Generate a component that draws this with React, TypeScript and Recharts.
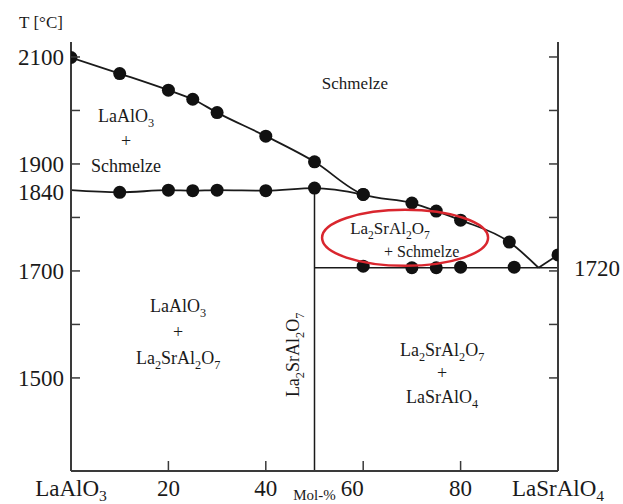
import React from 'react';
import { ComposedChart, Line, Scatter, XAxis, YAxis, ReferenceLine, ReferenceDot } from 'recharts';

// liquidus (upper curve)
const liqX = [0, 10, 20, 25, 30, 40, 50, 60, 70, 75, 80, 90, 96];
const liqT = [2099, 2069, 2038, 2021, 1996, 1952, 1904, 1843, 1827, 1812, 1795, 1754, 1706];
// short rising branch from the eutectic to pure LaSrAlO4
const riseX = [96, 100];
const riseT = [1706, 1730];
// the ~1840 line under LaAlO3 + Schmelze
const lowX = [0, 10, 20, 25, 30, 40, 50, 60];
const lowT = [1851, 1847, 1851, 1850, 1851, 1850, 1855, 1843];
// measured points on the eutectic line
const eutX = [60, 70, 75, 80, 91];
const eutT = [1709, 1706, 1706, 1707, 1707];
const eutLine = 1706;
const compound = 50;

const yTicks = [1500, 1600, 1700, 1800, 1840, 1900, 2000, 2100];
const yLabels: Record<number, string> = { 2100: '2100', 1900: '1900', 1840: '1840', 1700: '1700', 1500: '1500' };
const rightTicks = [1500, 1600, 1700, 1720, 1800, 1900, 2000, 2100];
const xTicks = [0, 20, 40, 50, 60, 80, 100];
const xLabels: Record<number, string> = { 0: 'LaAlO3', 20: '20', 40: '40', 50: 'Mol-%', 60: '60', 80: '80', 100: 'LaSrAlO4' };

const Y_MIN = 1326;
const Y_MAX = 2128;

const zip = (xs: number[], ts: number[]) => xs.map((x, i) => ({ x, T: ts[i] }));
const liquidus = zip(liqX, liqT);
const rise = zip(riseX, riseT);
const lower = zip(lowX, lowT);
const eutDots = zip(eutX, eutT);
const liqDots = liquidus.slice(0, -1);
const lowDots = lower.slice(1);
const endDot = rise.slice(1);

const FONT = '"Liberation Serif", "Times New Roman", serif';
const INK = '#1a1a1a';
const AXIS = '#3a3a3a';

// chemical formula: a digit that follows a letter becomes a subscript
// (dy only where the baseline moves, so the parent's y stays in charge)
function Formula({ s, fs, sub = 0.3 }: { s: string; fs: number; sub?: number }) {
  if (/^[\d\s]+$/.test(s)) return <>{s}</>;
  const parts = s.split(/(\d)/).filter(Boolean);
  const out: React.ReactNode[] = [];
  let low = false;
  const shift = fs * sub;
  parts.forEach((p, i) => {
    const isSub = /\d/.test(p);
    let dy: number | undefined;
    if (isSub && !low) { dy = shift; low = true; }
    else if (!isSub && low) { dy = -shift; low = false; }
    out.push(<tspan key={i} dy={dy} fontFamily={FONT} fontSize={isSub ? fs * 0.68 : fs}>{p}</tspan>);
  });
  return <>{out}</>;
}

const dot = (p: any) => <circle cx={p.cx} cy={p.cy} r={6.5} fill="#111" />;

const note = (lines: string[], fs: number, gap: number) => (p: any) => (
  <g>
    {lines.map((l, i) => (
      <text key={i} x={p.cx} y={p.cy + (i - (lines.length - 1) / 2) * gap + fs * 0.33}
        textAnchor="middle" fontFamily={FONT} fontSize={fs} fill={INK}>
        <Formula s={l} fs={fs} />
      </text>
    ))}
  </g>
);

const LeftTick = (p: any) => {
  const { x, y, payload } = p;
  const v = payload.value;
  return (
    <g>
      {v % 100 === 0 && <line x1={x} x2={x + 9} y1={y} y2={y} stroke={AXIS} strokeWidth={1.5} />}
      {yLabels[v] && (
        <text x={x - 7} y={y + (v === 1840 ? 4 : 8)} textAnchor="end" fontFamily={FONT} fontSize={23} fill={INK}>{yLabels[v]}</text>
      )}
    </g>
  );
};

const RightTick = (p: any) => {
  const { x, y, payload } = p;
  const v = payload.value;
  if (v === 1720) {
    return <text x={x + 16} y={y + 16} textAnchor="start" fontFamily={FONT} fontSize={23} fill={INK}>1720</text>;
  }
  return <line x1={x} x2={x - 9} y1={y} y2={y} stroke={AXIS} strokeWidth={1.5} />;
};

const BottomTick = (p: any) => {
  const { x, y, payload } = p;
  const v = payload.value;
  const label = xLabels[v];
  const inner = v > 0 && v < 100 && v !== 50;
  if (v === 50) {
    return <text x={x} y={y + 29} textAnchor="middle" fontFamily={FONT} fontSize={15} fill={INK}>{label}</text>;
  }
  return (
    <g>
      {inner && <line x1={x} x2={x} y1={y} y2={y - 10} stroke={AXIS} strokeWidth={1.5} />}
      <text x={x + (v === 60 ? -11 : 0)} y={y + 25} textAnchor="middle" fontFamily={FONT} fontSize={23} fill={INK}>
        <Formula s={label} fs={23} sub={0.2} />
      </text>
    </g>
  );
};

export default function App() {
  return (
    <div style={{ position: 'absolute', left: 0, top: 0, background: '#fff' }}>
      <ComposedChart width={623} height={504} margin={{ top: 42, right: 0, bottom: 0, left: 0 }}>
        <XAxis dataKey="x" type="number" domain={[0, 100]} ticks={xTicks} interval={0} height={33}
          tickSize={0} tickMargin={0} tickLine={false} tick={<BottomTick />}
          axisLine={{ stroke: AXIS, strokeWidth: 2 }} allowDataOverflow />
        <YAxis yAxisId="l" type="number" domain={[Y_MIN, Y_MAX]} ticks={yTicks} interval={0} width={71}
          tickSize={0} tickMargin={0} tickLine={false} tick={<LeftTick />}
          axisLine={{ stroke: AXIS, strokeWidth: 2 }} allowDataOverflow />
        <YAxis yAxisId="r" orientation="right" type="number" domain={[Y_MIN, Y_MAX]} ticks={rightTicks} interval={0} width={65}
          tickSize={0} tickMargin={0} tickLine={false} tick={<RightTick />}
          axisLine={{ stroke: AXIS, strokeWidth: 2 }} allowDataOverflow />

        <ReferenceLine yAxisId="l" segment={[{ x: compound, y: lowT[6] }, { x: compound, y: Y_MIN }]} stroke={INK} strokeWidth={1.5} />
        <ReferenceLine yAxisId="l" segment={[{ x: compound, y: eutLine }, { x: 100, y: eutLine }]} stroke={INK} strokeWidth={1.5} />

        <Line yAxisId="l" data={liquidus} dataKey="T" type="monotone" stroke={INK} strokeWidth={1.8} dot={false} isAnimationActive={false} />
        <Line yAxisId="l" data={rise} dataKey="T" type="linear" stroke={INK} strokeWidth={1.8} dot={false} isAnimationActive={false} />
        <Line yAxisId="l" data={lower} dataKey="T" type="monotone" stroke={INK} strokeWidth={1.8} dot={false} isAnimationActive={false} />

        <Scatter yAxisId="l" data={liqDots} dataKey="T" shape={dot} isAnimationActive={false} />
        <Scatter yAxisId="l" data={lowDots} dataKey="T" shape={dot} isAnimationActive={false} />
        <Scatter yAxisId="l" data={eutDots} dataKey="T" shape={dot} isAnimationActive={false} />
        <Scatter yAxisId="l" data={endDot} dataKey="T" shape={dot} isAnimationActive={false} />

        <ReferenceDot yAxisId="l" x={68.6} y={1762} r={0}
          shape={(p: any) => <ellipse cx={p.cx} cy={p.cy} rx={83} ry={28} fill="none" stroke="#d9262e" strokeWidth={2.5} />} />

        <ReferenceDot yAxisId="l" x={58.3} y={2050} r={0} shape={note(['Schmelze'], 17, 0)} />
        <ReferenceDot yAxisId="l" x={11.3} y={1943} r={0} shape={note(['LaAlO3', '+', 'Schmelze'], 18, 25)} />
        <ReferenceDot yAxisId="l" x={22} y={1586} r={0} shape={note(['LaAlO3', '+', 'La2SrAl2O7'], 18, 26)} />
        <ReferenceDot yAxisId="l" x={76.2} y={1509} r={0} shape={note(['La2SrAl2O7', '+', 'LaSrAlO4'], 18, 23.5)} />
        <ReferenceDot yAxisId="l" x={65.5} y={1780} r={0} shape={note(['La2SrAl2O7'], 17, 0)} />
        <ReferenceDot yAxisId="l" x={72} y={1736} r={0} shape={note(['+ Schmelze'], 16, 0)} />
        <ReferenceDot yAxisId="l" x={45.6} y={1543} r={0}
          shape={(p: any) => (
            <text x={p.cx} y={p.cy + 6} textAnchor="middle" fontFamily={FONT} fontSize={18} fill={INK}
              transform={`rotate(-90 ${p.cx} ${p.cy})`}>
              <Formula s="La2SrAl2O7" fs={18} />
            </text>
          )} />

        <text x={41} y={28} textAnchor="middle" fontFamily={FONT} fontSize={17} fill={INK}>T [°C]</text>
      </ComposedChart>
    </div>
  );
}
